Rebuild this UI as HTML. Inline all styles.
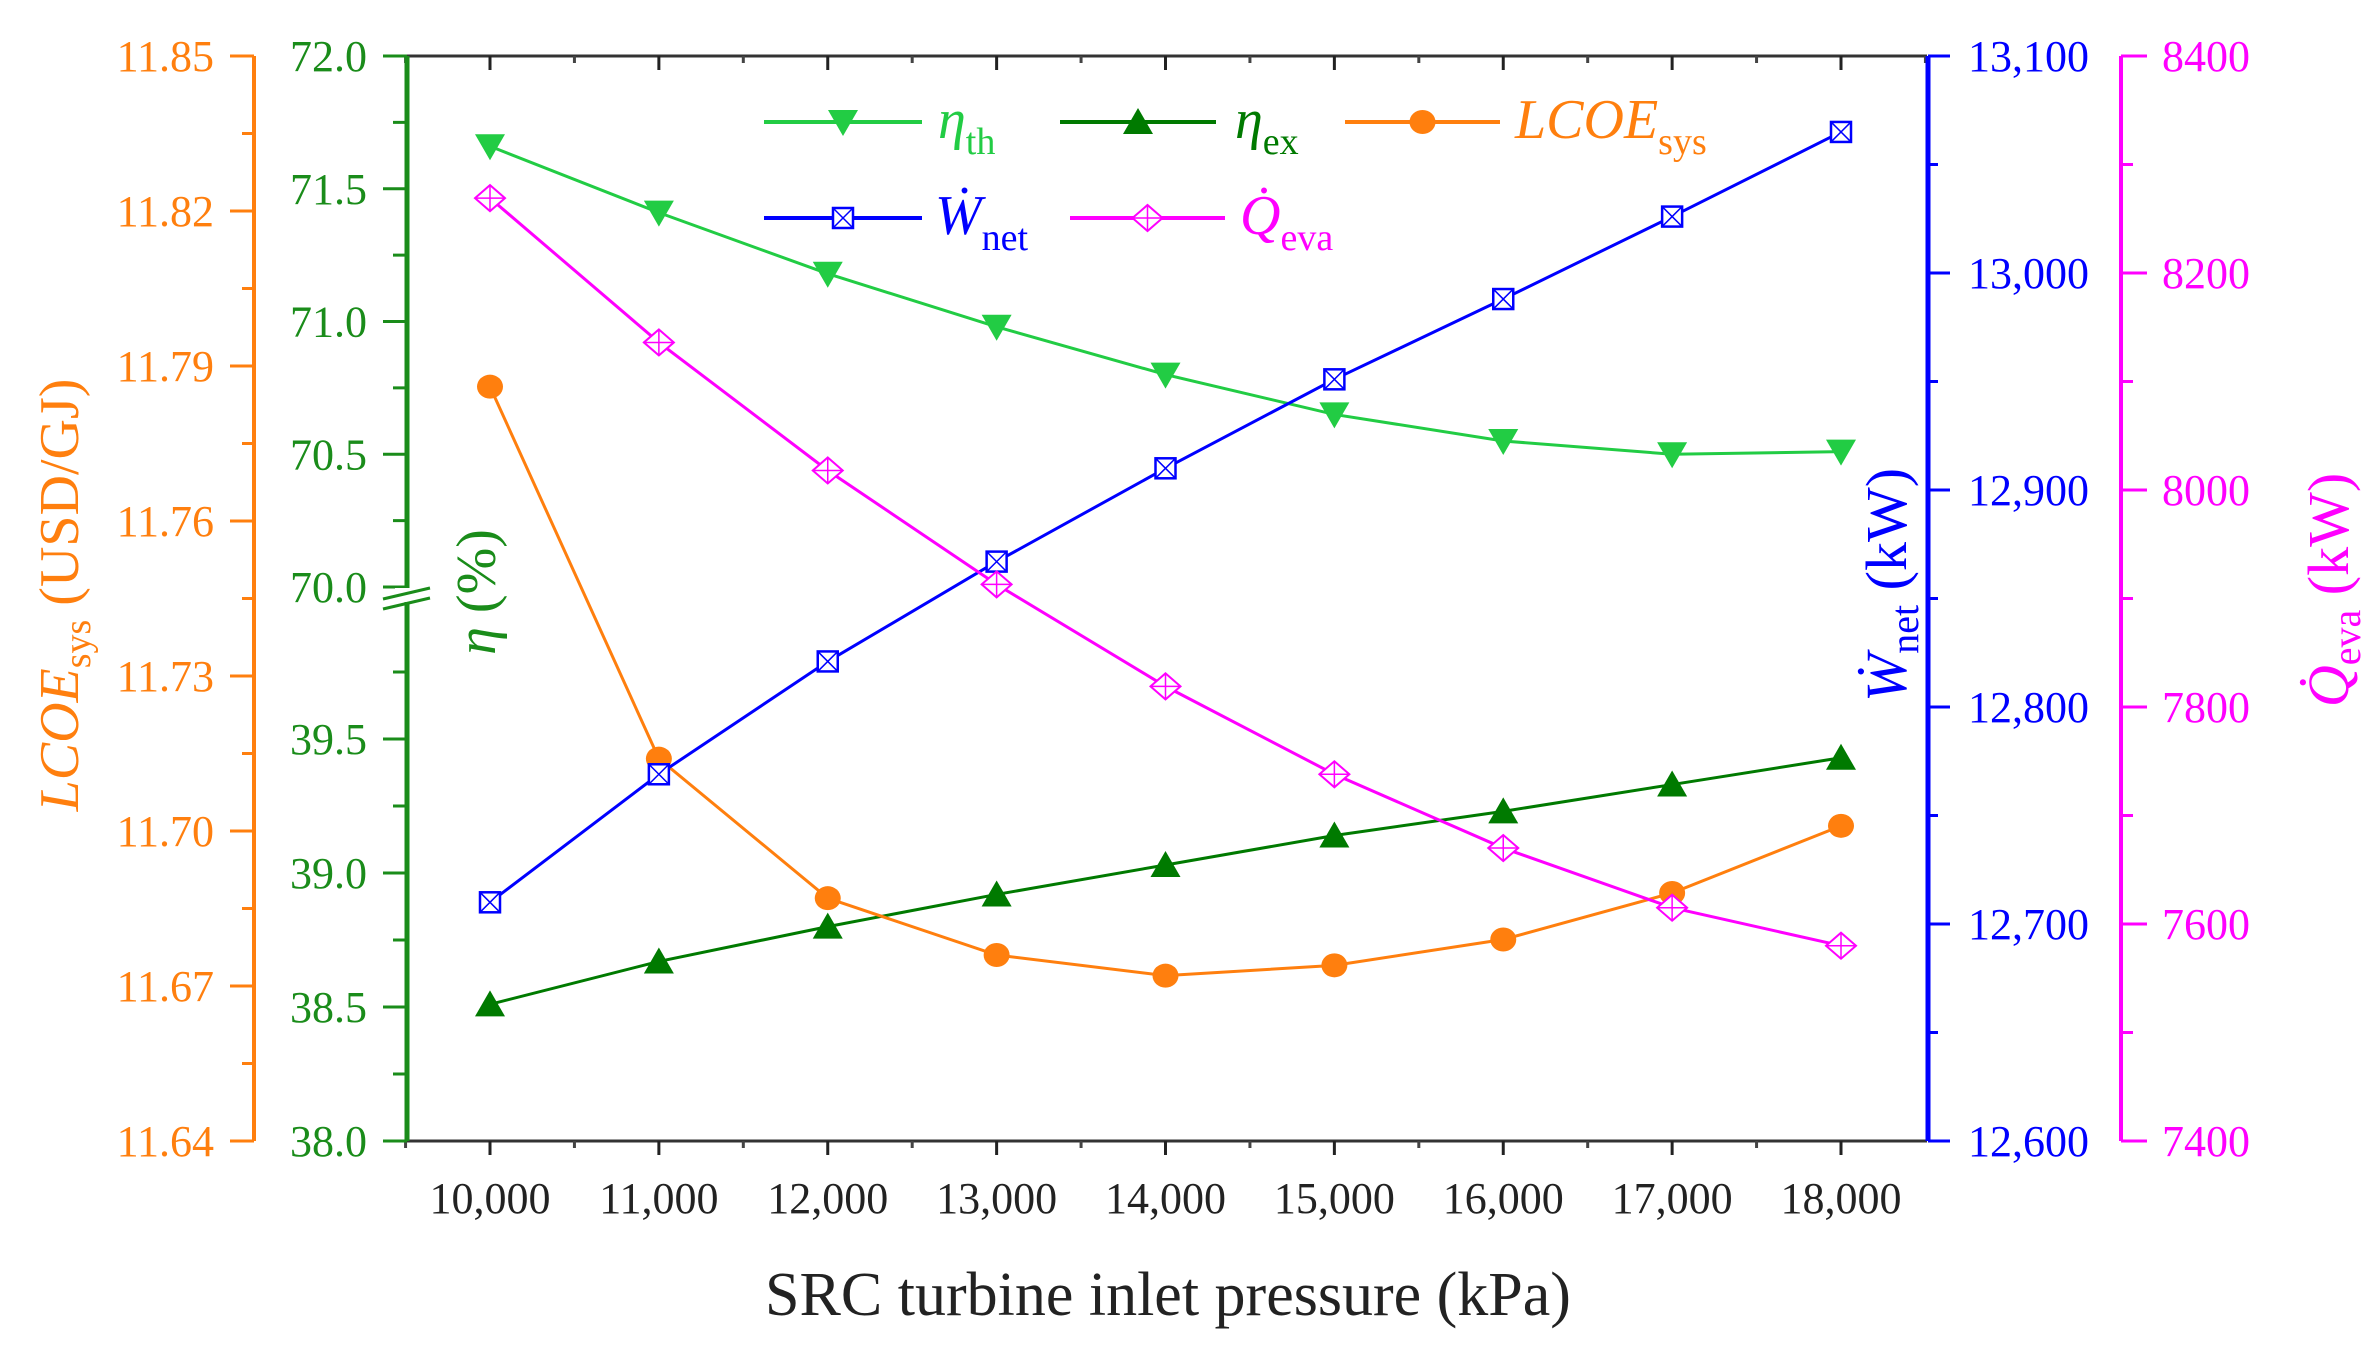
<!DOCTYPE html>
<html><head><meta charset="utf-8"><style>
html,body{margin:0;padding:0;background:#fff;}
svg{display:block;font-family:"Liberation Serif",serif;}
</style></head><body>
<svg id="chart" width="2372" height="1354" viewBox="0 0 2372 1354" xmlns="http://www.w3.org/2000/svg"></svg>
<script>
const pressures=[10000,11000,12000,13000,14000,15000,16000,17000,18000];
const etaTh=[71.66,71.41,71.18,70.98,70.80,70.65,70.55,70.50,70.51];
const etaEx=[38.51,38.67,38.80,38.92,39.03,39.14,39.23,39.33,39.43];
const lcoe=[11.786,11.714,11.687,11.676,11.672,11.674,11.679,11.688,11.701];
const wnet=[12710,12769,12821,12867,12910,12951,12988,13026,13065];
const qeva=[8269,8136,8018,7913,7819,7738,7670,7615,7580];
const xTicks=[10000,11000,12000,13000,14000,15000,16000,17000,18000];
const xTickLabels=["10,000","11,000","12,000","13,000","14,000","15,000","16,000","17,000","18,000"];
const lcoeTicks=[11.64,11.67,11.70,11.73,11.76,11.79,11.82,11.85];
const etaUpperTicks=[70.0,70.5,71.0,71.5,72.0];
const etaLowerTicks=[38.0,38.5,39.0,39.5];
const wnetTicks=[12600,12700,12800,12900,13000,13100];
const qevaTicks=[7400,7600,7800,8000,8200,8400];

const S="http://www.w3.org/2000/svg";
const svg=document.getElementById('chart');
function el(tag,attrs,parent){const e=document.createElementNS(S,tag);for(const k in attrs)e.setAttribute(k,attrs[k]);(parent||svg).appendChild(e);return e;}
const PL=407,PR=1927,PT=56,PB=1141;
const TF=44;
const x=v=>490+(v-10000)*(1841-490)/8000;
const yL=v=>PB-(v-11.64)/(0.21)*(PB-PT);
const yE=v=>v>=69?PT+(72-v)*265.5:PB-(v-38)*268;
const yW=v=>PB-(v-12600)/500*(PB-PT);
const yQ=v=>PB-(v-7400)/1000*(PB-PT);
const OR="#ff7f0e",GR="#1a8c1a",BL="#0000ff",MG="#ff00ff",LG="#22cc44",DG="#007a00";

const frame=el('g',{});

el('line',{x1:PL,y1:PT,x2:PR,y2:PT,stroke:'#333','stroke-width':3},frame);
el('line',{x1:PL,y1:PB,x2:PR,y2:PB,stroke:'#333','stroke-width':3},frame);

const xa=el('g',{});

for(let i=0;i<xTicks.length;i++){
  const X=x(xTicks[i]);
  el('line',{x1:X,y1:PT,x2:X,y2:PT+14,stroke:'#222','stroke-width':3},xa);
  el('line',{x1:X,y1:PB,x2:X,y2:PB+14,stroke:'#222','stroke-width':3},xa);
  const m=x(xTicks[i]-500);
  el('line',{x1:m,y1:PT,x2:m,y2:PT+7,stroke:'#444','stroke-width':3},xa);
  el('line',{x1:m,y1:PB,x2:m,y2:PB+7,stroke:'#444','stroke-width':3},xa);
  const t=el('text',{x:X,y:PB+72,'text-anchor':'middle','font-size':TF,fill:'#222'},xa);
  
  t.textContent=xTickLabels[i];
}
{const m=x(18500);el('line',{x1:m,y1:PT,x2:m,y2:PT+7,stroke:'#444','stroke-width':3},xa);}
const xt=el('text',{x:1168,y:1315,'text-anchor':'middle','font-size':62,fill:'#222'});

xt.textContent="SRC turbine inlet pressure (kPa)";

const oa=el('g',{});

el('line',{x1:254,y1:PT,x2:254,y2:PB,stroke:OR,'stroke-width':4},oa);
lcoeTicks.forEach((v,i)=>{const Y=yL(v);
  el('line',{x1:230,y1:Y,x2:254,y2:Y,stroke:OR,'stroke-width':3},oa);
  if(i<lcoeTicks.length-1){const m=yL(v+0.015);el('line',{x1:242,y1:m,x2:254,y2:m,stroke:OR,'stroke-width':3},oa);}
  const t=el('text',{x:214,y:Y+15,'text-anchor':'end','font-size':TF,fill:OR},oa);
  
  t.textContent=v.toFixed(2);});
const ot=el('text',{transform:'translate(78,595) rotate(-90)','text-anchor':'middle','font-size':56,fill:OR});

ot.innerHTML='<tspan font-style="italic">LCOE</tspan><tspan font-size="38" dy="12">sys</tspan><tspan dy="-12"> (USD/GJ)</tspan>';

const ga=el('g',{});

el('line',{x1:PL,y1:PT,x2:PL,y2:PB,stroke:GR,'stroke-width':5},ga);
function etaTick(v){const Y=yE(v);
  el('line',{x1:383,y1:Y,x2:PL,y2:Y,stroke:GR,'stroke-width':3},ga);
  const t=el('text',{x:367,y:Y+15,'text-anchor':'end','font-size':TF,fill:GR},ga);
  
  t.textContent=v.toFixed(1);}
etaUpperTicks.forEach((v,i)=>{etaTick(v);if(i<etaUpperTicks.length-1){const m=yE(v+0.25);el('line',{x1:393,y1:m,x2:PL,y2:m,stroke:GR,'stroke-width':3},ga);}});
etaLowerTicks.forEach(v=>{etaTick(v);const m=yE(v+0.25);el('line',{x1:393,y1:m,x2:PL,y2:m,stroke:GR,'stroke-width':3},ga);});
el('rect',{x:395,y:588,width:30,height:14,fill:'#fff'},ga);
el('line',{x1:383,y1:599,x2:430,y2:588,stroke:GR,'stroke-width':3},ga);
el('line',{x1:383,y1:609,x2:430,y2:598,stroke:GR,'stroke-width':3},ga);
const gt=el('text',{transform:'translate(495,592) rotate(-90)','text-anchor':'middle','font-size':56,fill:GR});

gt.innerHTML='<tspan font-style="italic">η</tspan> (%)';

const ba=el('g',{});

el('line',{x1:1928,y1:PT,x2:1928,y2:PB,stroke:BL,'stroke-width':5},ba);
wnetTicks.forEach((v,i)=>{const Y=yW(v);
  el('line',{x1:1928,y1:Y,x2:1950,y2:Y,stroke:BL,'stroke-width':3},ba);
  if(i<wnetTicks.length-1){const m=yW(v+50);el('line',{x1:1928,y1:m,x2:1938,y2:m,stroke:BL,'stroke-width':3},ba);}
  const t=el('text',{x:1968,y:Y+15,'font-size':TF,fill:BL},ba);
  
  t.textContent=v.toLocaleString('en-US');});
const bt=el('text',{transform:'translate(1906,585) rotate(-90)','text-anchor':'middle','font-size':58,fill:BL});

bt.innerHTML='<tspan font-style="italic">Ẇ</tspan><tspan font-size="40" dy="12">net</tspan><tspan dy="-12"> (kW)</tspan>';

const ma=el('g',{});

el('line',{x1:2121,y1:PT,x2:2121,y2:PB,stroke:MG,'stroke-width':4},ma);
qevaTicks.forEach((v,i)=>{const Y=yQ(v);
  el('line',{x1:2121,y1:Y,x2:2147,y2:Y,stroke:MG,'stroke-width':3},ma);
  if(i<qevaTicks.length-1){const m=yQ(v+100);el('line',{x1:2121,y1:m,x2:2133,y2:m,stroke:MG,'stroke-width':3},ma);}
  const t=el('text',{x:2162,y:Y+15,'font-size':TF,fill:MG},ma);
  
  t.textContent=String(v);});
const mt=el('text',{transform:'translate(2348,590) rotate(-90)','text-anchor':'middle','font-size':58,fill:MG});

mt.innerHTML='<tspan font-style="italic">Q̇</tspan><tspan font-size="40" dy="12">eva</tspan><tspan dy="-12"> (kW)</tspan>';

function marker(type,cx,cy,color,g){
  if(type==='down')el('polygon',{points:`${cx-15},${cy-12} ${cx+15},${cy-12} ${cx},${cy+14}`,fill:color},g);
  else if(type==='up')el('polygon',{points:`${cx-15},${cy+12} ${cx+15},${cy+12} ${cx},${cy-14}`,fill:color},g);
  else if(type==='circle')el('ellipse',{cx:cx,cy:cy,rx:13,ry:12,fill:color},g);
  else if(type==='square'){el('rect',{x:cx-10,y:cy-10,width:20,height:20,fill:'#fff',stroke:color,'stroke-width':2.5},g);
    el('path',{d:`M${cx-10},${cy-10}L${cx+10},${cy+10}M${cx+10},${cy-10}L${cx-10},${cy+10}`,stroke:color,'stroke-width':1.5},g);}
  else if(type==='diamond'){el('polygon',{points:`${cx-15},${cy} ${cx},${cy-13} ${cx+15},${cy} ${cx},${cy+13}`,fill:'#fff',stroke:color,'stroke-width':2},g);
    el('path',{d:`M${cx-15},${cy}L${cx+15},${cy}M${cx},${cy-13}L${cx},${cy+13}`,stroke:color,'stroke-width':1.5},g);}
}
function series(name,vals,yf,color,type){
  const g=el('g',{});
  
  el('polyline',{points:pressures.map((p,i)=>x(p)+','+yf(vals[i])).join(' '),fill:'none',stroke:color,'stroke-width':3},g);
  pressures.forEach((p,i)=>marker(type,x(p),yf(vals[i]),color,g));
}
series('eta-th-series',etaTh,yE,LG,'down');
series('eta-ex-series',etaEx,yE,DG,'up');
series('lcoe-series',lcoe,yL,OR,'circle');
series('wnet-series',wnet,yW,BL,'square');
series('qeva-series',qeva,yQ,MG,'diamond');

const lg=el('g',{});

function entry(name,x1,x2,y,color,type,tx,html){
  const g=el('g',{},lg);
  
  el('line',{x1:x1,y1:y,x2:x2,y2:y,stroke:color,'stroke-width':4},g);
  marker(type,(x1+x2)/2,y,color,g);
  const t=el('text',{x:tx,y:y+16,'font-size':56,fill:color},g);
  t.innerHTML=html;
}
entry('legend-eta-th',764,922,122,LG,'down',938,'<tspan font-style="italic">η</tspan><tspan font-size="38" dy="16">th</tspan>');
entry('legend-eta-ex',1060,1216,122,DG,'up',1235,'<tspan font-style="italic">η</tspan><tspan font-size="38" dy="16">ex</tspan>');
entry('legend-lcoe',1345,1500,122,OR,'circle',1515,'<tspan font-style="italic">LCOE</tspan><tspan font-size="38" dy="16">sys</tspan>');
entry('legend-wnet',764,922,218,BL,'square',935,'<tspan font-style="italic">Ẇ</tspan><tspan font-size="38" dy="16">net</tspan>');
entry('legend-qeva',1070,1225,218,MG,'diamond',1240,'<tspan font-style="italic">Q̇</tspan><tspan font-size="38" dy="16">eva</tspan>');
</script>
</body></html>
